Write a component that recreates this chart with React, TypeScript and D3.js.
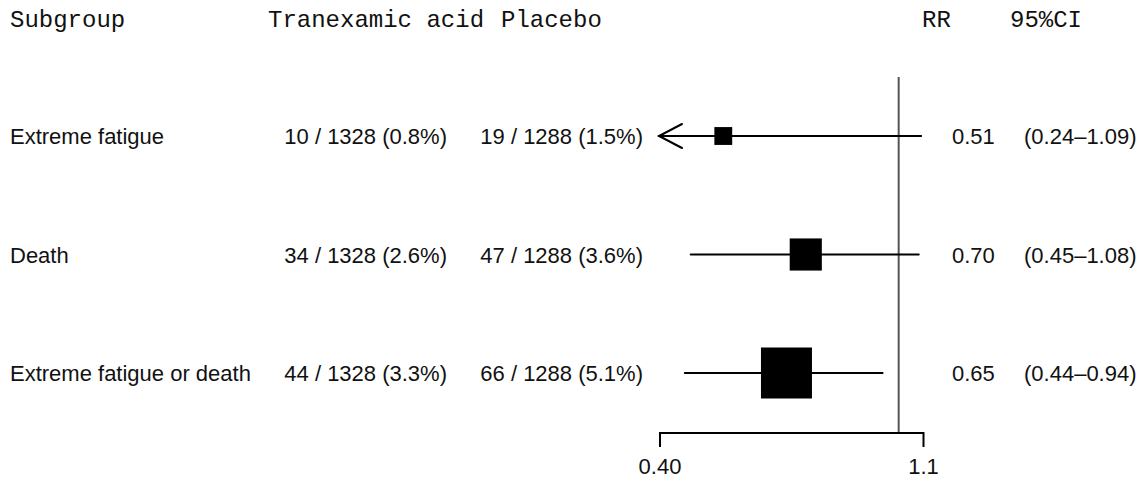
import React from "react";
import * as d3 from "d3";

const subgroups = ["Extreme fatigue", "Death", "Extreme fatigue or death"];
const txEvents = [10, 34, 44];
const txTotal = [1328, 1328, 1328];
const plEvents = [19, 47, 66];
const plTotal = [1288, 1288, 1288];
const rr = [0.51, 0.7, 0.65];
const ciLow = [0.24, 0.45, 0.44];
const ciHigh = [1.09, 1.08, 0.94];
const weights = [0.35, 0.63, 1.0];
const axisTicks = [0.4, 1.1];
const tickLabels = ["0.40", "1.1"];
const refValue = 1.0;
const headers = ["Subgroup", "Tranexamic acid", "Placebo", "RR", "95%CI"];

const W = 1142;
const H = 485;
const SANS = "'Liberation Sans', Arial, Helvetica, sans-serif";
const MONO = "'Liberation Mono', 'Courier New', monospace";

export default function App() {
  const x = d3.scaleLog().domain([0.4, 1.1]).range([660, 923.5]);
  const y = d3.scalePoint<string>().domain(subgroups).range([136, 373]);
  const box = d3.scaleLinear().domain([0, 1]).range([0, 51]);
  const fmtPct = (e: number, n: number) => `${e} / ${n} (${((e / n) * 100).toFixed(1)}%)`;
  const axisY = 433;
  const headerX = [10, 268, 501, 922, 1010];

  return (
    <svg
      width={W}
      height={H}
      style={{ position: "absolute", left: 0, top: 0, background: "#fff" }}
    >
      <rect x={0} y={0} width={W} height={H} fill="#fff" />
      {headers.map((h, i) => (
        <text key={h} x={headerX[i]} y={27} fontFamily={MONO} fontSize={24} fill="#111">
          {h}
        </text>
      ))}
      {/* reference line */}
      <line x1={x(refValue)} x2={x(refValue)} y1={77} y2={axisY} stroke="#555" strokeWidth={2} />
      {subgroups.map((s, i) => {
        const yy = y(s)!;
        const lo = ciLow[i];
        const clipped = lo < x.domain()[0];
        const x0 = clipped ? x(x.domain()[0]) : x(lo);
        const x1 = x(ciHigh[i]);
        const b = box(weights[i]);
        return (
          <g key={s}>
            <text x={10} y={yy + 8} fontFamily={SANS} fontSize={22} fill="#111">{s}</text>
            <text x={447} y={yy + 8} fontFamily={SANS} fontSize={22} fill="#111" textAnchor="end">
              {fmtPct(txEvents[i], txTotal[i])}
            </text>
            <text x={643} y={yy + 8} fontFamily={SANS} fontSize={22} fill="#111" textAnchor="end">
              {fmtPct(plEvents[i], plTotal[i])}
            </text>
            <text x={952} y={yy + 8} fontFamily={SANS} fontSize={22} fill="#111">{rr[i].toFixed(2)}</text>
            <text x={1024} y={yy + 8} fontFamily={SANS} fontSize={22} fill="#111">
              {`(${ciLow[i].toFixed(2)}–${ciHigh[i].toFixed(2)})`}
            </text>
            <line
              x1={x0 - (clipped ? 1 : 0)}
              x2={x1}
              y1={yy}
              y2={yy}
              stroke="#000"
              strokeWidth={2}
              strokeLinecap="round"
            />
            {clipped && (
              <polyline
                points={`${x0 + 22},${yy - 12} ${x0 - 1},${yy} ${x0 + 22},${yy + 12}`}
                fill="none"
                stroke="#000"
                strokeWidth={2}
                strokeLinecap="round"
              />
            )}
            <rect x={x(rr[i]) - b / 2} y={yy - b / 2} width={b} height={b} fill="#000" />
          </g>
        );
      })}
      {/* axis */}
      <line x1={x(axisTicks[0])} x2={x(axisTicks[axisTicks.length - 1])} y1={axisY} y2={axisY} stroke="#000" strokeWidth={2} />
      {axisTicks.map((t, i) => (
        <g key={t}>
          <line x1={x(t)} x2={x(t)} y1={axisY - 1} y2={axisY + 14} stroke="#000" strokeWidth={2} />
          <text x={x(t)} y={474} fontFamily={SANS} fontSize={22} fill="#111" textAnchor="middle">
            {tickLabels[i]}
          </text>
        </g>
      ))}
    </svg>
  );
}
